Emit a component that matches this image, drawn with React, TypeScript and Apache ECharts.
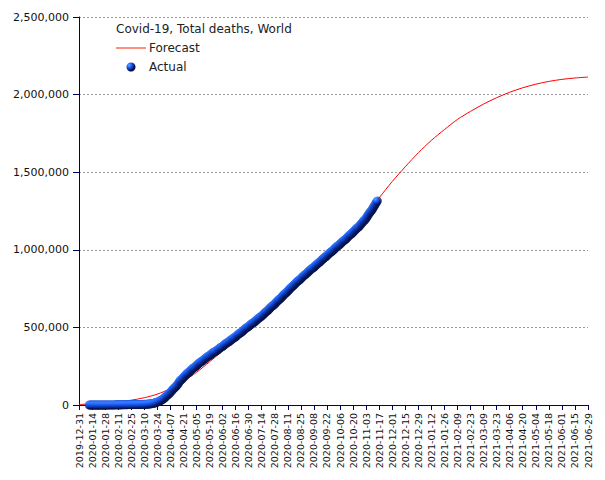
import React, { useEffect, useRef } from "react";
import * as echarts from "echarts";

const chartTitle = "Covid-19, Total deaths, World";
const axisStart = "2019-12-31";
const axisEnd = "2021-06-29";
const tickDays = 14;
const yTicks = [0, 500000, 1000000, 1500000, 2000000, 2500000];

// Forecast (red line), read at the 14-day tick dates
const forecastDates = [
  "2019-12-31", "2020-01-14", "2020-01-28", "2020-02-11", "2020-02-25", "2020-03-10",
  "2020-03-24", "2020-04-07", "2020-04-21", "2020-05-05", "2020-05-19", "2020-06-02",
  "2020-06-16", "2020-06-30", "2020-07-14", "2020-07-28", "2020-08-11", "2020-08-25",
  "2020-09-08", "2020-09-22", "2020-10-06", "2020-10-20", "2020-11-03", "2020-11-17",
  "2020-12-01", "2020-12-15", "2020-12-29", "2021-01-12", "2021-01-26", "2021-02-09",
  "2021-02-23", "2021-03-09", "2021-03-23", "2021-04-06", "2021-04-20", "2021-05-04",
  "2021-05-18", "2021-06-01", "2021-06-15", "2021-06-29",
];
const forecastDeaths = [
  3000, 7000, 12000, 20000, 31000, 47000,
  70000, 105000, 152000, 210000, 278000, 348000,
  415000, 483000, 555000, 630000, 710000, 795000,
  880000, 962000, 1045000, 1132000, 1228000, 1335000,
  1440000, 1535000, 1625000, 1705000, 1775000, 1840000,
  1892000, 1939000, 1980000, 2015000, 2044000, 2067000,
  2085000, 2098000, 2107000, 2113000,
];

// Actual (blue dots), one value per day starting at actualStart
const actualStart = "2020-01-11";
const actualJan = [1, 1, 1, 1, 2, 2, 2, 3, 3, 3, 6, 17, 18, 26, 42, 56, 82, 131, 133, 171, 213];
const actualFeb = [259, 362, 426, 492, 564, 634, 719, 806, 906, 1013, 1113, 1118, 1371, 1523, 1666, 1770, 1868, 2007, 2122, 2247, 2251, 2458, 2469, 2629, 2708, 2770, 2814, 2872, 2941];
const actualMar = [2996, 3085, 3160, 3254, 3348, 3460, 3558, 3802, 3988, 4262, 4615, 4720, 5404, 5819, 6440, 7126, 7905, 8733, 9867, 11299, 12973, 14623, 16497, 18615, 21181, 23970, 27198, 30652, 33925, 37582, 42107];
const actualApr = [46809, 53190, 59172, 64606, 69374, 74565, 81865, 88338, 95455, 102525, 108503, 114091, 119483, 126754, 134176, 143800, 153822, 159510, 165044, 169986, 177641, 183027, 190858, 197159, 202846, 206567, 211167, 217153, 224172, 230014];
const actualMay = [235290, 239740, 243401, 247503, 253240, 259474, 265084, 270740, 274861, 278892, 282709, 286330, 291942, 297197, 302418, 307395, 311847, 315185, 318789, 323285, 328115, 333401, 338160, 342097, 344454, 346700, 351684, 357432, 362238, 366812, 370657];
const actualJun = [373973, 377460, 382750, 388100, 393300, 397900, 401700, 405000, 409100, 414000, 419100, 423400, 428100, 431900, 435100, 439500, 446000, 451100, 456100, 460700, 464400, 468400, 473000, 478300, 484700, 490200, 494800, 498900, 502500, 506900];
const actualJul = [512000, 517100, 522300, 526700, 530200, 533800, 539500, 545000, 550200, 555700, 560800, 564800, 568600, 574000, 579600, 585300, 591300, 597700, 602000, 606000, 611700, 619100, 625000, 631200, 636900, 641000, 645100, 651300, 657900, 664500, 670600];
const actualAug = [676600, 681400, 685700, 692000, 699000, 705600, 712000, 718100, 723000, 727800, 734200, 740800, 747300, 753600, 759800, 764700, 769600, 775800, 782500, 788500, 794300, 799700, 804000, 808300, 814600, 820800, 826700, 832500, 837800, 842300, 846700];
const actualSep = [852700, 859000, 864700, 870400, 875800, 879800, 883500, 888200, 894500, 900200, 905800, 911100, 915600, 920000, 925700, 931800, 937700, 943200, 948400, 952500, 956800, 962700, 969000, 974300, 979700, 985000, 989100, 993200, 999300, 1005500];
const actualOct = [1011800, 1017600, 1022900, 1026800, 1030700, 1036500, 1042400, 1048300, 1054200, 1059600, 1063900, 1068000, 1073800, 1080500, 1086800, 1092800, 1098400, 1102400, 1106700, 1113300, 1119900, 1126400, 1133000, 1138800, 1142900, 1147300, 1154600, 1161800, 1169000, 1176000, 1184000];
const actualNov = [1189000, 1195000, 1204000, 1213000, 1223000, 1232000, 1241000, 1248000, 1255000, 1265000, 1275000, 1285000, 1295000, 1306000, 1315000];

const DAY = 86400000;
function toUtc(s: string) {
  const [y, m, d] = s.split("-").map(Number);
  return Date.UTC(y, m - 1, d);
}
const ORIGIN = toUtc(axisStart);
const dayIndex = (s: string) => Math.round((toUtc(s) - ORIGIN) / DAY);
const dateLabel = (i: number) => new Date(ORIGIN + i * DAY).toISOString().slice(0, 10);

const FONT = '"DejaVu Sans", Verdana, sans-serif';
const AXIS_COLOR = "#000060";

function dotGradient() {
  return new echarts.graphic.RadialGradient(0.3, 0.3, 0.6, [
    { offset: 0, color: "#6aa6ff" },
    { offset: 0.4, color: "#1e66ff" },
    { offset: 0.7, color: "#0d3cc0" },
    { offset: 1, color: "#06124d" },
  ]);
}

export default function App() {
  const ref = useRef<HTMLDivElement>(null);

  useEffect(() => {
    if (!ref.current) return;
    const chart = echarts.init(ref.current, undefined, { renderer: "svg" });

    const actualAll = [
      ...actualJan, ...actualFeb, ...actualMar, ...actualApr, ...actualMay, ...actualJun,
      ...actualJul, ...actualAug, ...actualSep, ...actualOct, ...actualNov,
    ];
    const a0 = dayIndex(actualStart);
    const actualData = actualAll.map((v, i) => [a0 + i, v]);
    const forecastData = forecastDates.map((d, i) => [dayIndex(d), forecastDeaths[i]]);
    const maxDay = dayIndex(axisEnd);

    chart.setOption({
      animation: false,
      backgroundColor: "#ffffff",
      grid: { left: 79, right: 605 - 588, top: 17, bottom: 75, containLabel: false },
      xAxis: {
        type: "value",
        min: 0,
        max: maxDay,
        interval: tickDays,
        axisLine: { show: true, onZero: false, lineStyle: { color: AXIS_COLOR, width: 1 } },
        axisTick: { show: true, length: 5, lineStyle: { color: AXIS_COLOR } },
        splitLine: { show: false },
        axisLabel: {
          rotate: 90,
          margin: 8,
          fontSize: 9.5,
          fontFamily: FONT,
          color: "#111",
          showMinLabel: true,
          showMaxLabel: true,
          hideOverlap: false,
          formatter: (v: number) => dateLabel(v),
        },
      },
      yAxis: {
        type: "value",
        min: yTicks[0],
        max: yTicks[yTicks.length - 1],
        interval: yTicks[1] - yTicks[0],
        axisLine: { show: true, lineStyle: { color: AXIS_COLOR, width: 1 } },
        axisTick: { show: true, length: 6, lineStyle: { color: AXIS_COLOR } },
        splitLine: { show: true, lineStyle: { color: "#9a9a9a", type: [2, 2], width: 1 } },
        axisLabel: {
          margin: 10,
          fontSize: 11,
          fontFamily: FONT,
          color: "#111",
          formatter: (v: number) => v.toLocaleString("en-US"),
        },
      },
      series: [
        {
          name: "Forecast",
          type: "line",
          data: forecastData,
          smooth: 0.3,
          showSymbol: false,
          lineStyle: { color: "#ff0000", width: 1 },
          z: 2,
        },
        {
          name: "Actual",
          type: "scatter",
          data: actualData,
          symbol: "circle",
          symbolSize: 9,
          itemStyle: { color: dotGradient() },
          z: 3,
        },
      ],
      graphic: [
        {
          type: "text",
          x: 116,
          y: 29,
          style: { text: chartTitle, font: `12px ${FONT}`, fill: "#222", verticalAlign: "middle" },
        },
        {
          type: "line",
          shape: { x1: 116, y1: 48, x2: 146, y2: 48 },
          style: { stroke: "#ff2000", lineWidth: 1 },
        },
        {
          type: "text",
          x: 149,
          y: 48,
          style: { text: "Forecast", font: `12px ${FONT}`, fill: "#222", verticalAlign: "middle" },
        },
        {
          type: "circle",
          shape: { cx: 131, cy: 67, r: 4.5 },
          style: { fill: dotGradient() },
        },
        {
          type: "text",
          x: 149,
          y: 67,
          style: { text: "Actual", font: `12px ${FONT}`, fill: "#222", verticalAlign: "middle" },
        },
      ],
    });

    return () => chart.dispose();
  }, []);

  return (
    <div
      ref={ref}
      style={{ position: "fixed", left: 0, top: 0, width: 605, height: 480, background: "#fff" }}
    />
  );
}
